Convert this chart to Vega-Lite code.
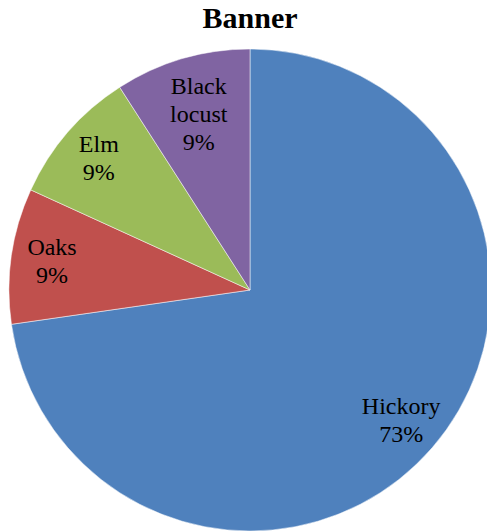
{
  "$schema": "https://vega.github.io/schema/vega-lite/v6.json",
  "width": 474,
  "height": 482,
  "autosize": {"type": "none"},
  "padding": {"left": 13, "top": 49, "right": 0, "bottom": 0},
  "background": "white",
  "config": {"view": {"stroke": null}},
  "title": {
    "text": "Banner",
    "font": "Liberation Serif",
    "fontSize": 30,
    "fontWeight": "bold",
    "color": "black",
    "anchor": "middle",
    "baseline": "alphabetic",
    "offset": -10
  },
  "data": {
    "values": [
      {"species": "Hickory", "value": 8, "label": "Hickory\n73%"},
      {"species": "Oaks", "value": 1, "label": "Oaks\n9%"},
      {"species": "Elm", "value": 1, "label": "Elm\n9%"},
      {"species": "Black locust", "value": 1, "label": "Black\nlocust\n9%"}
    ]
  },
  "transform": [
    {
      "stack": "value",
      "groupby": [],
      "sort": [{"field": "value", "order": "descending"}, {"field": "species", "order": "descending"}],
      "as": ["t0", "t1"]
    },
    {"calculate": "(datum.t0 + datum.t1) / 2", "as": "tm"}
  ],
  "layer": [
    {
      "mark": {"type": "arc", "outerRadius": 241, "stroke": "white", "strokeWidth": 0.5},
      "encoding": {
        "theta": {"field": "t0", "type": "quantitative", "scale": {"domain": [0, 11]}},
        "theta2": {"field": "t1"},
        "color": {
          "field": "species",
          "type": "nominal",
          "scale": {
            "domain": ["Hickory", "Oaks", "Elm", "Black locust"],
            "range": ["#4F81BD", "#C0504D", "#9BBB59", "#8064A2"]
          },
          "legend": null
        }
      }
    },
    {
      "transform": [{"filter": "datum.species !== 'Black locust'"}],
      "mark": {"type": "text", "radius": 200, "dy": -14, "font": "Liberation Serif", "fontSize": 24, "color": "black", "lineBreak": "\n", "lineHeight": 28, "align": "center", "baseline": "middle"},
      "encoding": {
        "theta": {"field": "tm", "type": "quantitative"},
        "text": {"field": "label", "type": "nominal"}
      }
    },
    {
      "transform": [{"filter": "datum.species === 'Black locust'"}],
      "mark": {"type": "text", "radius": 182, "dy": -28, "font": "Liberation Serif", "fontSize": 24, "color": "black", "lineBreak": "\n", "lineHeight": 28, "align": "center", "baseline": "middle"},
      "encoding": {
        "theta": {"field": "tm", "type": "quantitative"},
        "text": {"field": "label", "type": "nominal"}
      }
    }
  ]
}
